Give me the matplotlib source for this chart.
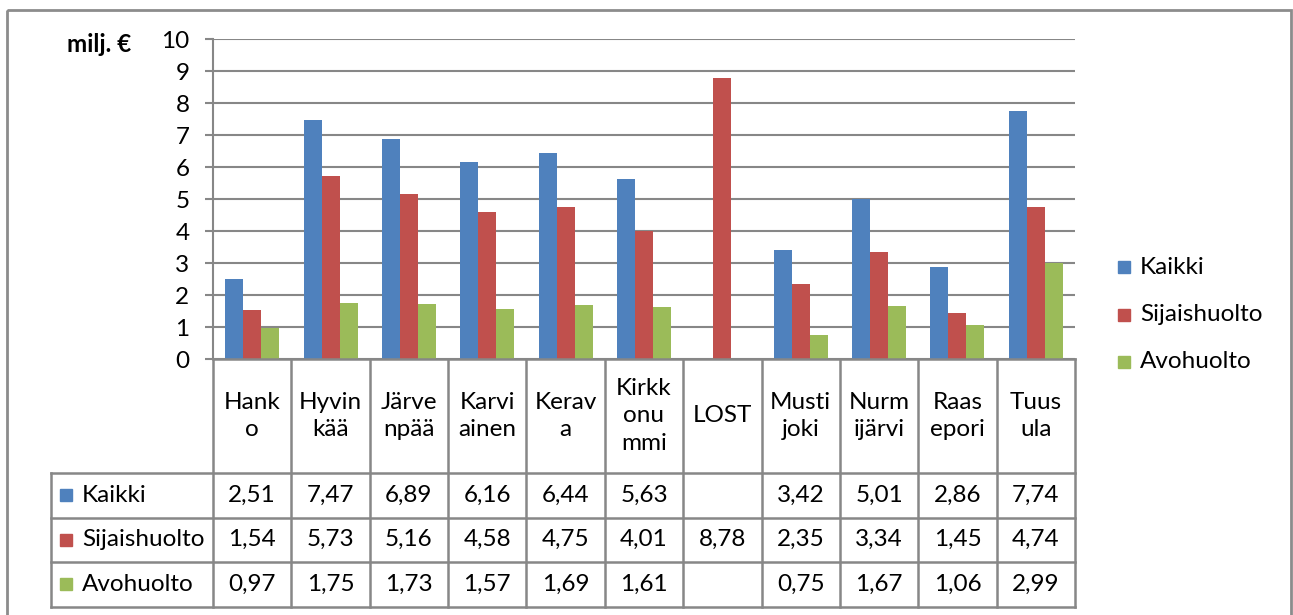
import numpy as np
import matplotlib
matplotlib.use("Agg")
import matplotlib.pyplot as plt
from matplotlib.patches import Rectangle

# data
categories = ["Hank\no", "Hyvin\nkää", "Järve\nnpää", "Karvi\nainen", "Kerav\na",
              "Kirkk\nonu\nmmi", "LOST", "Musti\njoki", "Nurm\nijärvi", "Raas\nepori", "Tuus\nula"]
series_names = ["Kaikki", "Sijaishuolto", "Avohuolto"]
kaikki = [2.51, 7.47, 6.89, 6.16, 6.44, 5.63, np.nan, 3.42, 5.01, 2.86, 7.74]
sijaishuolto = [1.54, 5.73, 5.16, 4.58, 4.75, 4.01, 8.78, 2.35, 3.34, 1.45, 4.74]
avohuolto = [0.97, 1.75, 1.73, 1.57, 1.69, 1.61, np.nan, 0.75, 1.67, 1.06, 2.99]
colors = ["#4F81BD", "#C0504D", "#9BBB59"]
yticks = list(range(0, 11))

plt.rcParams['font.family'] = ['Lato', 'DejaVu Sans']
GRID = "#878787"
FS = 17.5

W, H = 1293, 615
fig = plt.figure(figsize=(W / 100, H / 100), dpi=100)

# plot area in pixel coordinates
L, R, T, B = 213, 1075, 39, 359
ax = fig.add_axes([L / W, 1 - B / H, (R - L) / W, (B - T) / H])
n = len(categories)
x = np.arange(n)
bw = 0.23
for k, (vals, c) in enumerate(zip([kaikki, sijaishuolto, avohuolto], colors)):
    ax.bar(x + (k - 1) * bw, vals, width=bw, color=c, zorder=3)
ax.set_xlim(-0.5, n - 0.5)
ax.set_ylim(0, 10)
ax.set_yticks(yticks)
ax.set_yticklabels([str(t) for t in yticks])
ax.set_xticks([])
ax.yaxis.grid(True, color=GRID, lw=1.5, zorder=0)
for s in ["top", "right", "bottom"]:
    ax.spines[s].set_visible(False)
ax.spines["left"].set_color(GRID)
ax.spines["left"].set_linewidth(1.5)
ax.tick_params(axis="y", length=6, width=1.5, color=GRID, labelsize=FS, pad=11)

# overlay in pixel coordinates for table, legend, border
ov = fig.add_axes([0, 0, 1, 1], zorder=5)
ov.set_xlim(0, W)
ov.set_ylim(H, 0)
ov.axis("off")

# outer border
ov.add_patch(Rectangle((7, 10), 1284, 620, fill=False, ec="#8C8C8C", lw=2, clip_on=False))

ov.text(131, 45, "milj. €", ha="right", va="center", fontsize=FS, fontweight="bold")

# table
colw = (R - L) / n
rows = [359, 472.5, 517.5, 562, 606.5]
lw_t = 1.8
ov.plot([L, R], [B, B], color=GRID, lw=lw_t)
for yy in rows[1:]:
    ov.plot([51, R], [yy, yy], color=GRID, lw=lw_t)
for i in range(n + 1):
    xx = L + i * colw
    ov.plot([xx, xx], [rows[0], rows[-1]], color=GRID, lw=lw_t)
ov.plot([51, 51], [rows[1], rows[-1]], color=GRID, lw=lw_t)

for i, cat in enumerate(categories):
    cx = L + (i + 0.5) * colw
    ov.text(cx, (rows[0] + rows[1]) / 2, cat, ha="center", va="center",
            fontsize=FS, linespacing=1.38)

for r, (name, vals, c) in enumerate(zip(series_names, [kaikki, sijaishuolto, avohuolto], colors)):
    cy = (rows[r + 1] + rows[r + 2]) / 2
    ov.add_patch(Rectangle((60, cy - 6), 12, 12, color=c))
    ov.text(82, cy, name, ha="left", va="center", fontsize=FS)
    for i, v in enumerate(vals):
        if np.isnan(v):
            continue
        cx = L + (i + 0.5) * colw
        ov.text(cx, cy, f"{v:.2f}".replace(".", ","), ha="center", va="center", fontsize=FS)

# legend on right
for k, (name, c) in enumerate(zip(series_names, colors)):
    cy = 267 + k * 47.5
    ov.add_patch(Rectangle((1118, cy - 6), 12, 12, color=c))
    ov.text(1140, cy, name, ha="left", va="center", fontsize=FS)

fig.savefig("out.png", dpi=100)
